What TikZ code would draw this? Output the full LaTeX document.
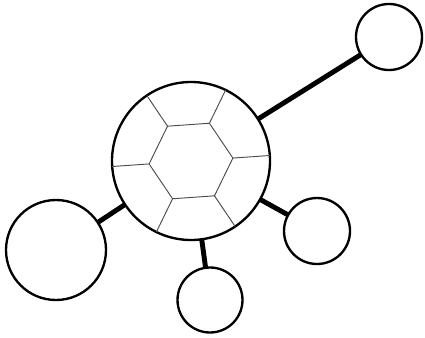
\documentclass[tikz,border=0pt]{standalone}
\usetikzlibrary{positioning, calc}
\begin{document}
\begin{tikzpicture}[x=0.03cm, y=-0.03cm,
  ring/.style={draw, circle, line width=2pt, inner sep=0pt, outer sep=0pt},
  bond/.style={line width=4.2pt},
  web/.style={draw=black!70, line width=0.8pt}
]
  \useasboundingbox (0,0) rectangle (425,337);

  \node[ring, minimum size=4.74cm] (hub) at (191,161) {};
  \node[ring, minimum size=1.98cm] (ne) at (389,37) {};
  \node[ring, minimum size=3.0cm] (west) at (56,250) {};
  \node[ring, minimum size=1.95cm] (south) at (210,300) {};
  \node[ring, minimum size=1.98cm] (east) at (317,231) {};

  % hexagon and spokes inside the hub
  \foreach \a [count=\i] in {4,64,...,304}
    \coordinate (h\i) at ($(hub.center)+(\a:1.26cm)$);
  \draw[web] (h1) -- (h2) -- (h3) -- (h4) -- (h5) -- (h6) -- cycle;
  \foreach \a [count=\i] in {4,64,...,304}
    \draw[web] (h\i) -- (hub.\a);

  \draw[bond] (hub) -- (ne);
  \draw[bond] (hub) -- (west);
  \draw[bond] (hub) -- (south);
  \draw[bond] (hub) -- (east);
\end{tikzpicture}
\end{document}
